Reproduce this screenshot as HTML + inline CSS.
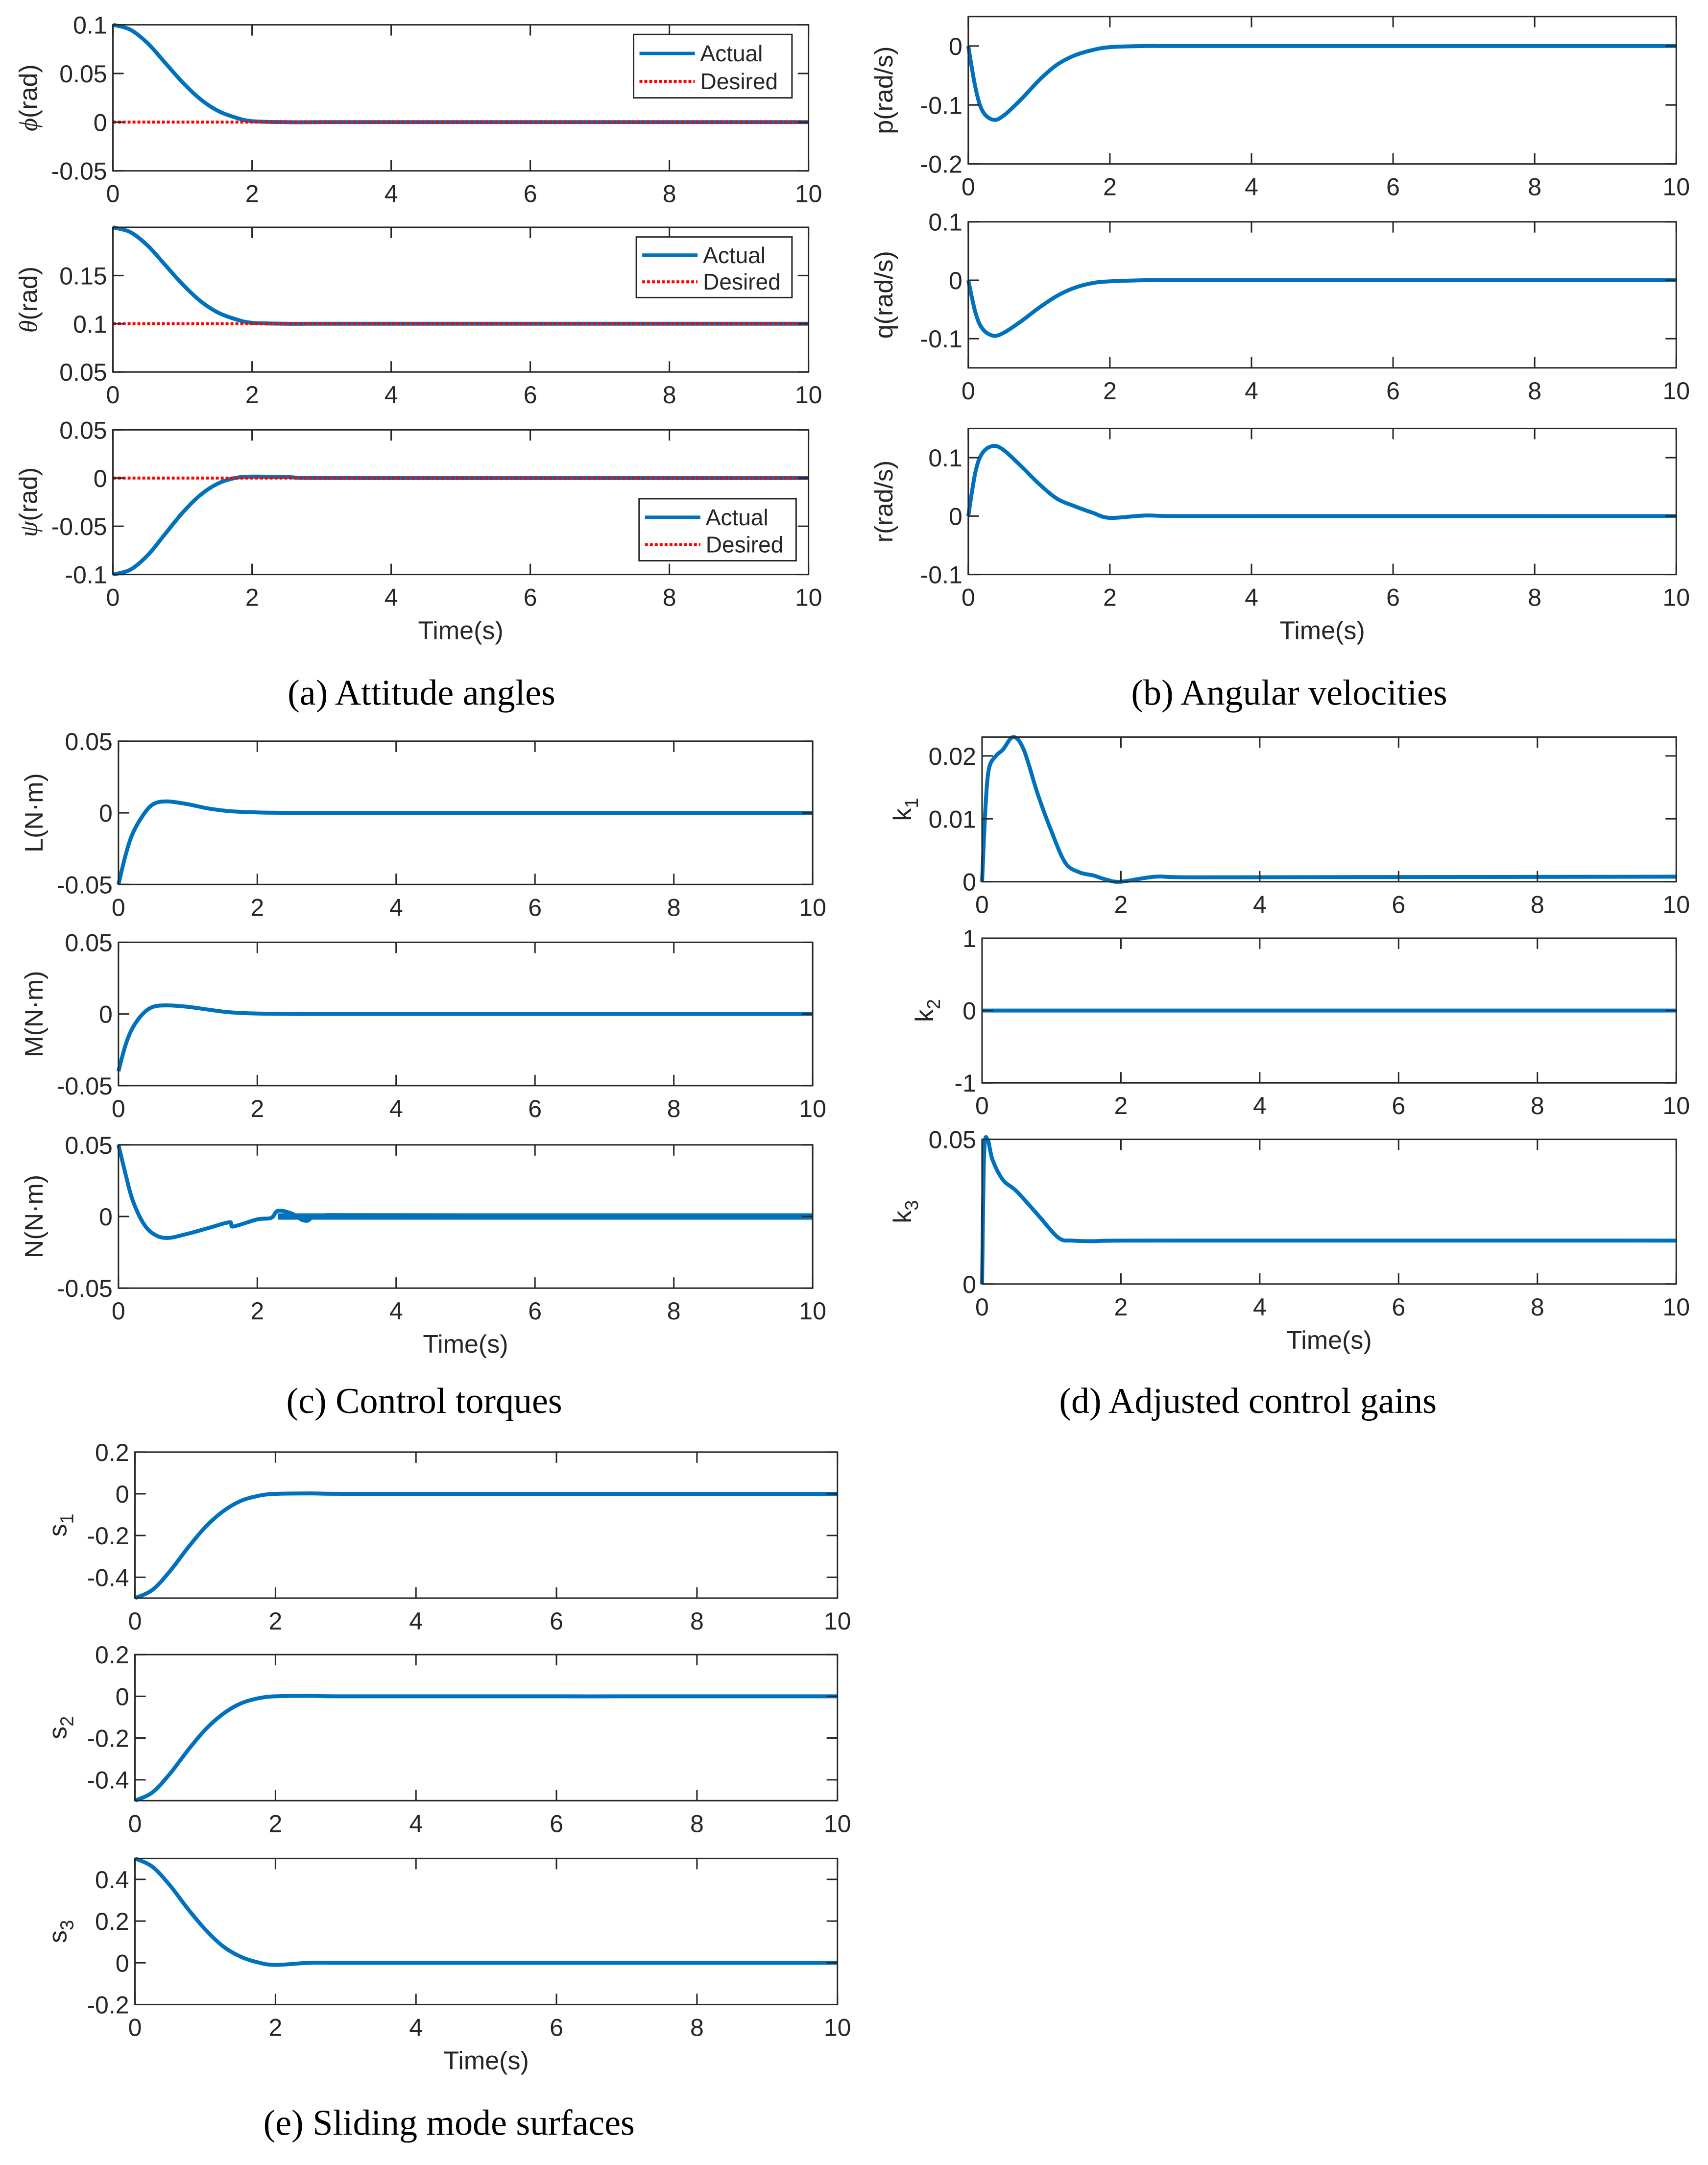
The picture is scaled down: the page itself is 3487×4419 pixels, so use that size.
<!DOCTYPE html>
<html><head><meta charset="utf-8"><style>
html,body{margin:0;padding:0;background:#fff;}
svg{display:block;}
text{font-family:"Liberation Sans",sans-serif;fill:#262626;}
.cap{font-family:"Liberation Serif",serif;fill:#000;}
</style></head><body>
<svg id="fig" width="3487" height="4419" viewBox="0 0 3487 4419" xmlns="http://www.w3.org/2000/svg"></svg>
<script>
// ---- data ----
const tA = [0,0.25,0.5,0.75,1,1.25,1.5,1.75,2,2.5,3,10];
const phiVals = [0.1,0.095,0.081,0.061,0.041,0.024,0.012,0.005,0.001,0,0,0];
const thetaVals = [0.2,0.195,0.181,0.161,0.141,0.124,0.112,0.105,0.101,0.1,0.1,0.1];
const psiVals = [-0.1,-0.095,-0.08,-0.058,-0.036,-0.018,-0.006,0,0.0015,0.001,0,0];
const tB = [0,0.1,0.2,0.35,0.5,0.75,1,1.25,1.5,1.75,2,2.5,3,10];
const pVals = [0,-0.07,-0.11,-0.125,-0.118,-0.09,-0.058,-0.032,-0.016,-0.007,-0.002,0,0,0];
const qVals = [0,-0.055,-0.083,-0.095,-0.09,-0.07,-0.047,-0.027,-0.013,-0.005,-0.002,0,0,0];
const rVals = [0,0.075,0.108,0.12,0.113,0.085,0.055,0.03,0.017,0.006,-0.003,0.001,0,0];
const tC = [0,0.1,0.2,0.35,0.5,0.7,1,1.3,1.6,2,2.5,3,10];
const LVals = [-0.05,-0.03,-0.015,-0.002,0.006,0.008,0.006,0.003,0.0012,0.0003,0,0,0];
const MVals = [-0.04,-0.022,-0.01,0,0.005,0.006,0.005,0.003,0.0012,0.0003,0,0,0];
const tN = [0,0.1,0.2,0.35,0.5,0.7,1,1.3,1.6,1.65,2,2.2,2.3,2.5,2.7,3,10];
const NVals = [0.05,0.03,0.012,-0.004,-0.012,-0.015,-0.012,-0.008,-0.004,-0.007,-0.002,-0.001,0.004,0.002,-0.003,0.001,0];
const tK1 = [0,0.05,0.1,0.2,0.3,0.45,0.6,0.8,1,1.2,1.4,1.6,1.8,2,2.5,3,10];
const k1Vals = [0,0.012,0.018,0.02,0.021,0.023,0.021,0.014,0.008,0.003,0.0015,0.001,0.0003,0,0.0008,0.0007,0.0008];
const tK2 = [0,10];
const k2Vals = [0,0];
const tK3 = [0,0.03,0.08,0.15,0.3,0.5,0.8,1.1,1.3,1.6,2,10];
const k3Vals = [0,0.045,0.05,0.043,0.036,0.032,0.024,0.016,0.015,0.0148,0.015,0.015];
const tS = [0,0.25,0.5,0.75,1,1.25,1.5,1.75,2,2.5,3,10];
const s1Vals = [-0.5,-0.46,-0.37,-0.26,-0.16,-0.085,-0.035,-0.01,0,0.002,0,0];
const s2Vals = [-0.5,-0.46,-0.37,-0.26,-0.16,-0.085,-0.035,-0.01,0,0.002,0,0];
const s3Vals = [0.5,0.46,0.37,0.26,0.16,0.08,0.03,0.002,-0.01,0,0,0];
const xTicks = [0,2,4,6,8,10];

const S = 2.812;
const svg = document.getElementById('fig');
const NS = 'http://www.w3.org/2000/svg';
function mk(tag, attrs, parent){const e=document.createElementNS(NS,tag);for(const k in attrs)e.setAttribute(k,attrs[k]);(parent||svg).appendChild(e);return e;}

// smooth path (Catmull-Rom -> cubic bezier) through screen points
function smoothPath(P){
  let d='M'+P[0][0].toFixed(1)+' '+P[0][1].toFixed(1);
  for(let i=0;i<P.length-1;i++){
    const p0=P[i-1]||P[i],p1=P[i],p2=P[i+1],p3=P[i+2]||P[i+1];
    const k=1/6;
    let c1x=p1[0]+(p2[0]-p0[0])*k,c1y=p1[1]+(p2[1]-p0[1])*k;
    let c2x=p2[0]-(p3[0]-p1[0])*k,c2y=p2[1]-(p3[1]-p1[1])*k;
    c1x=Math.min(Math.max(c1x,p1[0]),p2[0]);c2x=Math.min(Math.max(c2x,p1[0]),p2[0]);
    d+=`C${c1x.toFixed(1)} ${c1y.toFixed(1)} ${c2x.toFixed(1)} ${c2y.toFixed(1)} ${p2[0].toFixed(1)} ${p2[1].toFixed(1)}`;
  }
  return d;
}

function panel(name, L, R, T, B, ymin, ymax, yticks, ylabels, series, ylab, opts){
  opts=opts||{};
  const g=mk('g',{});
  
  
  const x0=L*S,x1=R*S,y0=T*S,y1=B*S;
  const xs=t=>x0+(t/10)*(x1-x0);
  const ys=v=>y1-(v-ymin)/(ymax-ymin)*(y1-y0);
  mk('rect',{x:x0,y:y0,width:x1-x0,height:y1-y0,fill:'#fff',stroke:'none'},g);
  series.forEach(s=>{
    const P=s.t.map((t,i)=>[xs(t),ys(s.v[i])]);
    const d=s.dash?('M'+P.map(p=>p[0].toFixed(1)+' '+p[1].toFixed(1)).join('L')):smoothPath(P);
    const p=mk('path',{d:d,fill:'none',stroke:s.color,'stroke-width':s.w||8,'stroke-dasharray':s.dash||'none','stroke-linejoin':'round'},g);
    
    
  });
  mk('rect',{x:x0,y:y0,width:x1-x0,height:y1-y0,fill:'none',stroke:'#262626','stroke-width':3},g);
  const tl=22;
  xTicks.forEach(t=>{
    const x=xs(t);
    mk('line',{x1:x,y1:y1,x2:x,y2:y1-tl,stroke:'#262626','stroke-width':3},g);
    mk('line',{x1:x,y1:y0,x2:x,y2:y0+tl,stroke:'#262626','stroke-width':3},g);
    const tx=mk('text',{x:x,y:y1+64,'font-size':50,'text-anchor':'middle'},g);
    tx.textContent=t;
    
    
  });
  yticks.forEach((v,i)=>{
    const y=ys(v);
    mk('line',{x1:x0,y1:y,x2:x0+tl,y2:y,stroke:'#262626','stroke-width':3},g);
    mk('line',{x1:x1,y1:y,x2:x1-tl,y2:y,stroke:'#262626','stroke-width':3},g);
    const tx=mk('text',{x:x0-12,y:y+18,'font-size':50,'text-anchor':'end'},g);
    tx.textContent=ylabels[i];
    
    
  });
  const lx=x0-(opts.labOff||155), ly=(y0+y1)/2;
  const yl=mk('text',{x:lx,y:ly,'font-size':52,'text-anchor':'middle',transform:`rotate(-90 ${lx} ${ly})`},g);
  
  
  if(ylab.sub){
    yl.textContent=ylab.main;
    const ts=mk('tspan',{'font-size':38,dy:14},yl);ts.textContent=ylab.sub;
  } else if(ylab.greek){
    const a=mk('tspan',{'font-family':'Liberation Serif, serif','font-style':'italic'},yl);a.textContent=ylab.greek;
    const b=mk('tspan',{},yl);b.textContent=ylab.main;
  } else yl.textContent=ylab.main;
  if(opts.legend){
    const [lL,lT,lR,lB]=opts.legend.map(v=>v*S);
    const lg=mk('g',{},g);
    
    
    mk('rect',{x:lL,y:lT,width:lR-lL,height:lB-lT,fill:'#fff',stroke:'#262626','stroke-width':3},lg);
    const h=(lB-lT);
    mk('line',{x1:lL+12,x2:lL+125,y1:lT+h*0.3,y2:lT+h*0.3,stroke:'#0072BD','stroke-width':7},lg);
    mk('line',{x1:lL+12,x2:lL+125,y1:lT+h*0.74,y2:lT+h*0.74,stroke:'#FF0000','stroke-width':6,'stroke-dasharray':'6 4'},lg);
    const a=mk('text',{x:lL+136,y:lT+h*0.3+16,'font-size':46},lg);a.textContent='Actual';
    
    const b=mk('text',{x:lL+136,y:lT+h*0.74+16,'font-size':46},lg);b.textContent='Desired';
    
  }
  if(opts.xlabel){
    const t=mk('text',{x:(x0+x1)/2,y:y1+132,'font-size':52,'text-anchor':'middle'},g);
    t.textContent='Time(s)';
    
  }
}
function caption(name,txt,x,y){
  const t=mk('text',{x:x*S,y:y*S+24,'font-size':74,'text-anchor':'middle','class':'cap'});
  t.textContent=txt;
  
}
const BL='#0072BD', RD='#FF0000';
const act=(t,v)=>({name:'actual-line',t:t,v:v,color:BL});
const des=(v)=>({name:'desired-line',t:[0,10],v:[v,v],color:RD,w:6,dash:'6 4'});
// (a)
panel('phi-plot',82,587,18,124,-0.05,0.1,[0.1,0.05,0,-0.05],['0.1','0.05','0','-0.05'],[act(tA,phiVals),des(0)],{main:'(rad)',greek:'ϕ'},{legend:[460,25,575,71]});
panel('theta-plot',82,587,165,270,0.05,0.2,[0.15,0.1,0.05],['0.15','0.1','0.05'],[act(tA,thetaVals),des(0.1)],{main:'(rad)',greek:'θ'},{legend:[462,172,575,216]});
panel('psi-plot',82,587,312,417,-0.1,0.05,[0.05,0,-0.05,-0.1],['0.05','0','-0.05','-0.1'],[act(tA,psiVals),des(0)],{main:'(rad)',greek:'ψ'},{legend:[464,362,578,407],xlabel:true});
caption('caption-a','(a) Attitude angles',306,503);
// (b)
panel('p-plot',703,1217,12,119,-0.2,0.05,[0,-0.1,-0.2],['0','-0.1','-0.2'],[act(tB,pVals)],{main:'p(rad/s)'},{});
panel('q-plot',703,1217,161,267,-0.15,0.1,[0.1,0,-0.1],['0.1','0','-0.1'],[act(tB,qVals)],{main:'q(rad/s)'},{});
panel('r-plot',703,1217,311,417,-0.1,0.15,[0.1,0,-0.1],['0.1','0','-0.1'],[act(tB,rVals)],{main:'r(rad/s)'},{xlabel:true});
caption('caption-b','(b) Angular velocities',936,503);
// (c)
panel('L-plot',86,590,538,642,-0.05,0.05,[0.05,0,-0.05],['0.05','0','-0.05'],[act(tC,LVals)],{main:'L(N·m)'},{});
panel('M-plot',86,590,684,788,-0.05,0.05,[0.05,0,-0.05],['0.05','0','-0.05'],[act(tC,MVals)],{main:'M(N·m)'},{});
panel('N-plot',86,590,831,935,-0.05,0.05,[0.05,0,-0.05],['0.05','0','-0.05'],[act(tN,NVals),{name:'oscillation-band',t:[2.3,10],v:[0,0],color:BL,w:13,dash:'none'}],{main:'N(N·m)'},{xlabel:true});
caption('caption-c','(c) Control torques',308,1017);
// (d)
panel('k1-plot',713,1217,535,640,0,0.023,[0.02,0.01,0],['0.02','0.01','0'],[act(tK1,k1Vals)],{main:'k',sub:'1'},{labOff:145});
panel('k2-plot',713,1217,681,786,-1,1,[1,0,-1],['1','0','-1'],[act(tK2,k2Vals)],{main:'k',sub:'2'},{labOff:100});
panel('k3-plot',713,1217,827,932,0,0.05,[0.05,0],['0.05','0'],[act(tK3,k3Vals)],{main:'k',sub:'3'},{labOff:145,xlabel:true});
caption('caption-d','(d) Adjusted control gains',906,1017);
// (e)
panel('s1-plot',98,608,1054,1160,-0.5,0.2,[0.2,0,-0.2,-0.4],['0.2','0','-0.2','-0.4'],[act(tS,s1Vals)],{main:'s',sub:'1'},{labOff:140});
panel('s2-plot',98,608,1201,1307,-0.5,0.2,[0.2,0,-0.2,-0.4],['0.2','0','-0.2','-0.4'],[act(tS,s2Vals)],{main:'s',sub:'2'},{labOff:140});
panel('s3-plot',98,608,1349,1455,-0.2,0.5,[0.4,0.2,0,-0.2],['0.4','0.2','0','-0.2'],[act(tS,s3Vals)],{main:'s',sub:'3'},{labOff:140,xlabel:true});
caption('caption-e','(e) Sliding mode surfaces',326,1541);
</script>
</body></html>
